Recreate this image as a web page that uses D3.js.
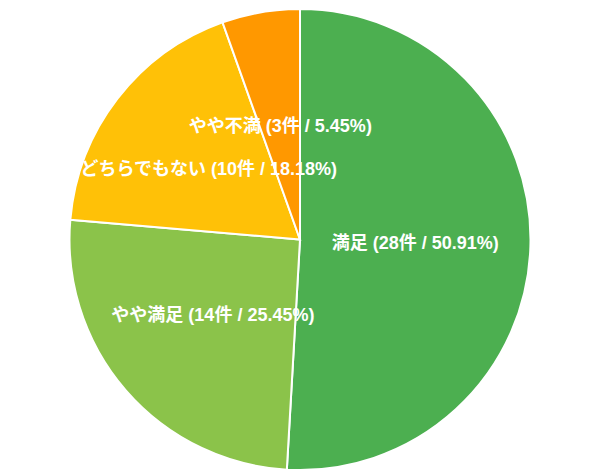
<!DOCTYPE html>
<html>
<head>
<meta charset="utf-8">
<script src="https://cdn.jsdelivr.net/npm/d3@7"></script>
<style>
  body { margin: 0; background: #fff; }
  .label { font-family: "Liberation Sans", Arial, "Noto Sans CJK JP", sans-serif; font-weight: bold; font-size: 18px; fill: #fff; }
</style>
</head>
<body>
<script>
// satisfaction survey answers
var categories = ["満足", "やや満足", "どちらでもない", "やや不満"];
var counts = [28, 14, 10, 3];
var percents = ["50.91%", "25.45%", "18.18%", "5.45%"];
var colors = ["#4caf50", "#8bc34a", "#ffc107", "#ff9800"];

var width = 600, height = 474;
var cx = 300, cy = 239.5, radius = 230.5;

var svg = d3.select("body").append("svg")
	.attr("width", width)
	.attr("height", height);

var g = svg.append("g").attr("transform", "translate(" + cx + "," + cy + ")");

var data = categories.map(function (c, i) {
	return { name: c, value: counts[i], pct: percents[i], color: colors[i] };
});

var pie = d3.pie().sort(null).value(function (d) { return d.value; });
var arc = d3.arc().innerRadius(0).outerRadius(radius);
var labelArc = d3.arc().innerRadius(radius * 0.5).outerRadius(radius * 0.5);

var arcs = pie(data);

g.selectAll("path")
	.data(arcs)
	.enter()
	.append("path")
	.attr("d", arc)
	.attr("fill", function (d) { return d.data.color; })
	.attr("stroke", "#fff")
	.attr("stroke-width", 2);

g.selectAll("text")
	.data(arcs)
	.enter()
	.append("text")
	.attr("class", "label")
	.attr("transform", function (d) { return "translate(" + labelArc.centroid(d) + ")"; })
	.attr("text-anchor", "middle")
	.attr("dy", "0.35em")
	.text(function (d) { return d.data.name + " (" + d.data.value + "件 / " + d.data.pct + ")"; });
</script>
</body>
</html>
